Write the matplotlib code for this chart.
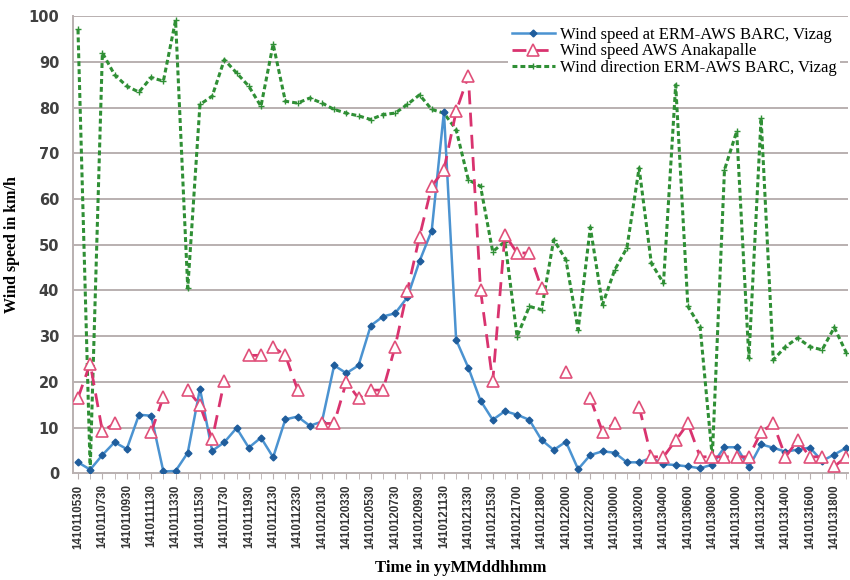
import numpy as np
import matplotlib
matplotlib.use("Agg")
import matplotlib.pyplot as plt

# Tick labels (every second hourly record is labelled)
tick_labels = [
    "1410110530", "1410110730", "1410110930", "1410111130", "1410111330",
    "1410111530", "1410111730", "1410111930", "1410112130", "1410112330",
    "1410120130", "1410120330", "1410120530", "1410120730", "1410120930",
    "1410121130", "1410121330", "1410121530", "1410121700", "1410121800",
    "1410122000", "1410122200", "1410130000", "1410130200", "1410130400",
    "1410130600", "1410130800", "1410131000", "1410131200", "1410131400",
    "1410131600", "1410131800",
]

nan = np.nan

# Wind speed at ERM-AWS BARC, Vizag (km/h)
speed_barc = [
    2.4, 0.8, 4.0, 6.8, 5.3, 12.8, 12.6, 0.4, 0.5, 4.5,
    18.5, 4.9, 6.8, 9.9, 5.6, 7.8, 3.5, 11.8, 12.4, 10.4,
    11.3, 23.6, 21.9, 23.6, 32.3, 34.3, 35.0, 38.5, 46.4, 53.1,
    79.1, 29.2, 23.1, 15.9, 11.7, 13.6, 12.8, 11.7, 7.3, 5.1,
    6.9, 0.9, 4.0, 4.8, 4.5, 2.4, 2.4, 3.4, 2.0, 1.8,
    1.5, 1.1, 1.9, 5.7, 5.7, 1.3, 6.3, 5.6, 4.7, 5.2,
    5.6, 2.7, 4.1, 5.6,
]

# Wind speed AWS Anakapalle (km/h), gaps = missing records
speed_anakapalle = [
    16.5, 24.0, 9.2, 10.9, nan, nan, 9.0, 16.7, nan, 18.2,
    14.9, 7.4, 20.2, nan, 25.8, 25.8, 27.6, 25.8, 18.3, nan,
    10.9, 10.9, 20.0, 16.4, 18.2, 18.2, 27.7, 39.9, 51.8, 62.8,
    66.4, 79.2, 86.9, 40.1, 20.1, 52.2, 48.2, 48.2, 40.5, nan,
    22.2, nan, 16.4, 9.1, 11.0, nan, 14.6, 3.6, 3.6, 7.2,
    10.9, 3.6, 3.6, 3.6, 3.6, 3.6, 9.0, 10.9, 3.6, 7.2,
    3.6, 3.6, 1.5, 3.6,
]

# Wind direction ERM-AWS BARC, Vizag
direction_barc = [
    97.1, 0.8, 92.0, 87.2, 84.7, 83.4, 86.6, 85.8, 99.1, 40.5,
    80.7, 82.5, 90.5, 87.6, 84.7, 80.3, 93.9, 81.4, 81.0, 82.1,
    81.0, 79.6, 78.8, 78.2, 77.4, 78.5, 78.8, 80.7, 82.8, 79.6,
    78.8, 75.2, 64.2, 62.8, 48.5, 50.7, 29.9, 36.5, 35.8, 51.1,
    46.7, 31.4, 53.8, 36.9, 44.5, 49.3, 66.8, 46.0, 41.6, 85.0,
    36.5, 32.1, 3.5, 66.4, 74.8, 25.2, 77.7, 24.8, 27.7, 29.6,
    27.7, 27.0, 31.9, 26.3,
]

x = np.arange(len(speed_barc))

fig = plt.figure(figsize=(8.5, 5.8), dpi=100)
ax = fig.add_axes([0.086, 0.184, 0.912, 0.788])

grid_col = "#b9b0b0"
ax.set_ylim(0, 100)
ax.set_xlim(-0.4, 63.15)
ax.set_yticks(range(0, 101, 10))
for v in range(10, 101, 10):
    ax.axhline(v, color=grid_col, lw=1.4, zorder=0)

ax.plot(x, speed_barc, color="#4b93d1", lw=1.8, marker="D", ms=3.5,
        mfc="#1f5d9c", mec="#1f5d9c", label="Wind speed at ERM-AWS BARC, Vizag", zorder=3)
ax.plot(x, speed_anakapalle, color="#d9336f", lw=2.0, dashes=(5, 3), marker="^", ms=8,
        mfc="white", mec="#e0507a", mew=1.2, label="Wind speed AWS Anakapalle", zorder=4)
ax.plot(x, direction_barc, color="#2f8f35", lw=2.2, dashes=(1.6, 1.0), marker="+", ms=4,
        mec="#2f8f35", label="Wind direction ERM-AWS BARC, Vizag", zorder=2)

for s in ["top", "right"]:
    ax.spines[s].set_visible(False)
ax.spines["left"].set_color(grid_col)
ax.spines["bottom"].set_color(grid_col)
ax.spines["left"].set_linewidth(1.4)
ax.spines["bottom"].set_linewidth(1.4)

ax.set_xticks(x, minor=True)
ax.set_xticks(x[::2])
ax.set_xticklabels(tick_labels, rotation=90, fontsize=8.3, fontweight="bold",
                   color="#333333", family="Liberation Sans")
ax.tick_params(axis="x", which="both", length=4, color=grid_col, pad=4)
ax.tick_params(axis="y", length=0, pad=10, labelsize=10.5, labelcolor="#404040")
for lab in ax.get_yticklabels():
    lab.set_fontweight("bold")

ax.set_ylabel("Wind speed in km/h", family="Liberation Serif", fontweight="bold",
              fontsize=11.5)
ax.yaxis.set_label_coords(-0.068, 0.5)
ax.set_xlabel("Time in yyMMddhhmm", family="Liberation Serif", fontweight="bold",
              fontsize=12, labelpad=8)

leg = ax.legend(loc="upper right", bbox_to_anchor=(1.0, 1.003), prop={"family": "Liberation Serif", "size": 12},
                frameon=True, facecolor="white", edgecolor="none", framealpha=1,
                handlelength=2.6, handletextpad=0.3, labelspacing=0.05, borderpad=0.2)

fig.savefig("out.png", dpi=100)
